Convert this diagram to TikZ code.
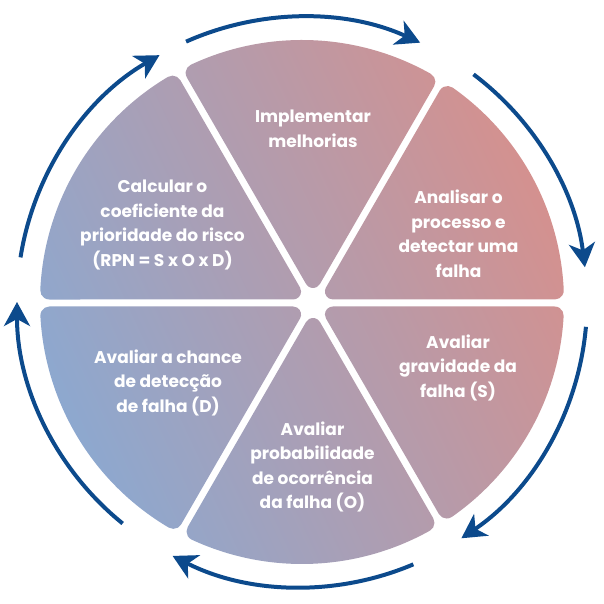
\documentclass[tikz,border=0pt]{standalone}
\usepackage{fontspec}
\setmainfont{Poppins}
\usetikzlibrary{arrows.meta}
\definecolor{ringblue}{RGB}{12,74,140}
\definecolor{coolend}{RGB}{141,168,207}
\definecolor{warmend}{RGB}{212,145,143}
\tikzset{
  ringarrow/.style={draw=ringblue, line width=4pt,
    -{Stealth[length=24pt,width=26pt,inset=7pt]}},
  sectortext/.style={text=white, align=center,
    font=\bfseries\fontsize{17}{24.5}\selectfont},
  sectorfill/.style={path picture={
    \shade[top color=warmend, bottom color=coolend, shading angle=-65]
      (\Cx,\Cy) circle[radius=\Rr];}}
}
\begin{document}
\begin{tikzpicture}[x=100pt,y=100pt]
\useasboundingbox (0,0) rectangle (6.04,6.04);
% outer disc, hub point, gap half-width, corner radii
\def\Cx{3.02}\def\Cy{3.02}\def\Rr{2.62}
\def\Jx{3.13}\def\Jy{3.01}
\def\g{0.035}\def\rf{0.09}\def\rt{0.08}
% six rounded wedges around the hub
\foreach \k in {0,...,5}{
  \pgfmathsetmacro\aA{60*\k}
  \pgfmathsetmacro\aB{60*\k+60}
  % fillet on the first straight side
  \pgfmathsetmacro\Dx{\Jx-\Cx-(\g+\rf)*sin(\aA)}
  \pgfmathsetmacro\Dy{\Jy-\Cy+(\g+\rf)*cos(\aA)}
  \pgfmathsetmacro\Du{\Dx*cos(\aA)+\Dy*sin(\aA)}
  \pgfmathsetmacro\sA{-\Du+sqrt(\Du*\Du-\Dx*\Dx-\Dy*\Dy+(\Rr-\rf)*(\Rr-\rf))}
  \pgfmathsetmacro\FAx{\Cx+\Dx+\sA*cos(\aA)}
  \pgfmathsetmacro\FAy{\Cy+\Dy+\sA*sin(\aA)}
  \pgfmathsetmacro\TAx{\FAx+\rf*sin(\aA)}
  \pgfmathsetmacro\TAy{\FAy-\rf*cos(\aA)}
  \pgfmathsetmacro\bA{atan2(\FAy-\Cy,\FAx-\Cx)}
  % fillet on the second straight side
  \pgfmathsetmacro\Ex{\Jx-\Cx+(\g+\rf)*sin(\aB)}
  \pgfmathsetmacro\Ey{\Jy-\Cy-(\g+\rf)*cos(\aB)}
  \pgfmathsetmacro\Eu{\Ex*cos(\aB)+\Ey*sin(\aB)}
  \pgfmathsetmacro\sB{-\Eu+sqrt(\Eu*\Eu-\Ex*\Ex-\Ey*\Ey+(\Rr-\rf)*(\Rr-\rf))}
  \pgfmathsetmacro\FBx{\Cx+\Ex+\sB*cos(\aB)}
  \pgfmathsetmacro\FBy{\Cy+\Ey+\sB*sin(\aB)}
  \pgfmathsetmacro\bB{atan2(\FBy-\Cy,\FBx-\Cx)}
  % rounded tip near the hub
  \pgfmathsetmacro\Tx{\Jx+(2*\g+2*\rt)*cos(\aA+30)}
  \pgfmathsetmacro\Ty{\Jy+(2*\g+2*\rt)*sin(\aA+30)}
  \pgfmathsetmacro\QAx{\Tx+\rt*sin(\aA)}
  \pgfmathsetmacro\QAy{\Ty-\rt*cos(\aA)}
  \pgfmathsetmacro\QBx{\Tx-\rt*sin(\aB)}
  \pgfmathsetmacro\QBy{\Ty+\rt*cos(\aB)}
  % arc end angles, always counter-clockwise
  \pgfmathsetmacro\eA{\aA-90+mod(\bA-\aA+90+720,360)}
  \pgfmathsetmacro\eR{\bA+mod(\bB-\bA+720,360)}
  \pgfmathsetmacro\eB{\bB+mod(\aB+90-\bB+720,360)}
  \path[sectorfill]
    (\QAx,\QAy) -- (\TAx,\TAy)
    arc[start angle=\aA-90, end angle=\eA, radius=\rf]
    arc[start angle=\bA, end angle=\eR, radius=\Rr]
    arc[start angle=\bB, end angle=\eB, radius=\rf]
    -- (\QBx,\QBy)
    arc[start angle=\aA+150, end angle=\aA+270, radius=\rt] -- cycle;
}
% sector captions
\node[sectortext] (improve) at (3.13,4.75) {Implementar\\melhorias};
\node[sectortext] (analyse) at (4.585,3.70) {Analisar o\\processo e\\detectar uma\\falha};
\node[sectortext] (severity) at (4.58,2.365) {Avaliar\\gravidade da\\falha (S)};
\node[sectortext] (occurrence) at (3.125,1.37) {Avaliar\\probabilidade\\de ocorrência\\da falha (O)};
\node[sectortext] (detection) at (1.68,2.215) {Avaliar a chance\\de detecção\\de falha (D)};
\node[sectortext] (rpn) at (1.625,3.79) {Calcular o\\coeficiente da\\prioridade do risco\\(RPN = S x O x D)};
% clockwise ring of arrows
\foreach \s/\e in {114/65.5, 53/7, -5/-56, -67/-117, 231/180, 171/120}{
  \draw[ringarrow] (\Cx,\Cy) ++(\s:2.85) arc[start angle=\s, end angle=\e, radius=2.85];
}
\end{tikzpicture}
\end{document}
